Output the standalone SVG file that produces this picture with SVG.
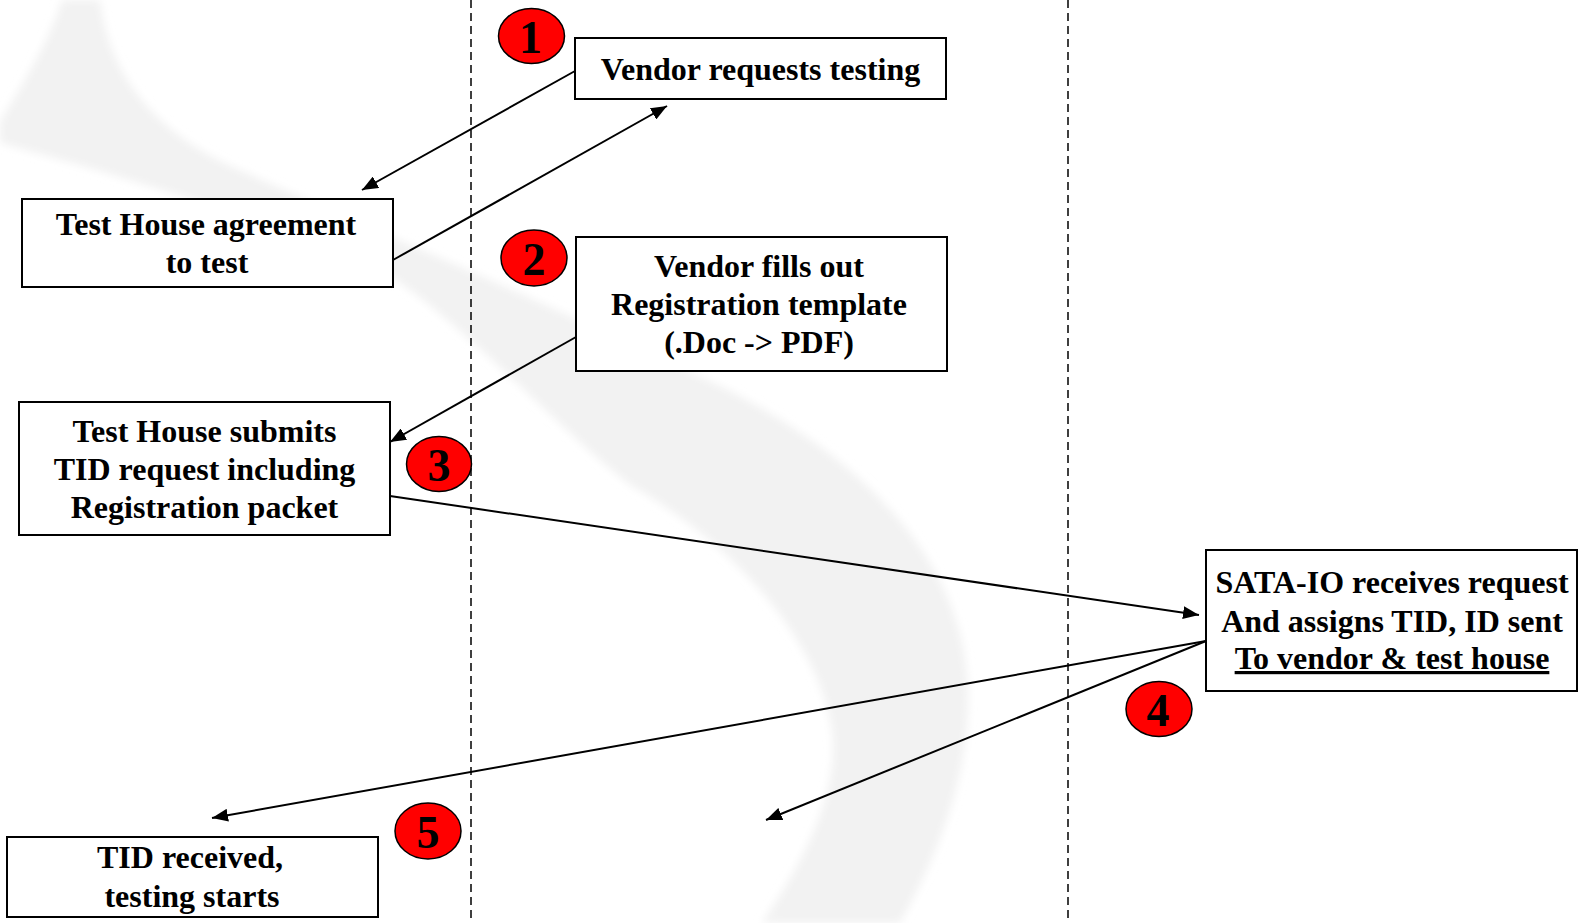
<svg xmlns="http://www.w3.org/2000/svg" width="1585" height="923" viewBox="0 0 1585 923">
  <defs>
    <style>
      .box { fill: #ffffff; stroke: #000000; stroke-width: 2; }
      .lbl { font-family: "Liberation Serif", "Times New Roman", serif; font-weight: bold; font-size: 32px; fill: #000000; text-anchor: middle; }
      .badge { fill: #ff0000; stroke: #000000; stroke-width: 1.5; }
      .num { font-family: "Liberation Serif", "Times New Roman", serif; font-weight: bold; font-size: 46px; fill: #000000; text-anchor: middle; }
      .lane { stroke: #000000; stroke-width: 1.5; stroke-dasharray: 8 5; fill: none; }
      .conn { stroke: #000000; stroke-width: 2; fill: none; marker-end: url(#arr); }
    </style>
    <marker id="arr" markerWidth="16" markerHeight="13" refX="16" refY="6.5" orient="auto" markerUnits="userSpaceOnUse">
      <path d="M0,0 L16,6.5 L0,13 z" fill="#000000"/>
    </marker>
    <filter id="soft" x="-10%" y="-10%" width="120%" height="120%">
      <feGaussianBlur stdDeviation="4"/>
    </filter>
  </defs>

  <rect x="0" y="0" width="1585" height="923" fill="#ffffff"/>

  <!-- background watermark swoosh -->
  <path id="swoosh" filter="url(#soft)" fill="#f2f2f2"
        d="M100,0 C108,70 150,130 235,168 C335,213 520,290 718,385 C860,455 965,560 968,691 C970,780 935,860 900,923 L762,923 C805,860 840,790 832,730 C822,660 760,560 629,484 C560,430 470,330 393,278 C300,230 120,175 0,143 L0,122 C25,80 50,40 62,0 Z"/>

  <!-- swimlane separators -->
  <g id="lanes">
    <line class="lane" x1="471" y1="0" x2="471" y2="918"/>
    <line class="lane" x1="1068" y1="0" x2="1068" y2="918"/>
  </g>

  <!-- connectors -->
  <g id="connectors">
    <line class="conn" x1="575" y1="71" x2="362" y2="190"/>
    <line class="conn" x1="393" y1="260" x2="667" y2="106"/>
    <line class="conn" x1="576" y1="337" x2="390" y2="442"/>
    <line class="conn" x1="390" y1="496" x2="1199" y2="615"/>
    <line class="conn" x1="1206" y1="641" x2="212" y2="818"/>
    <line class="conn" x1="1206" y1="641" x2="766" y2="820"/>
  </g>

  <!-- nodes -->
  <g id="node-vendor-requests">
    <rect class="box" x="575" y="38" width="371" height="61"/>
    <text class="lbl" x="760.5" y="80">Vendor requests testing</text>
  </g>

  <g id="node-agreement">
    <rect class="box" x="22" y="199" width="371" height="88"/>
    <text class="lbl"><tspan x="206" y="235">Test House agreement</tspan><tspan x="207" y="273">to test</tspan></text>
  </g>

  <g id="node-vendor-fills">
    <rect class="box" x="576" y="237" width="371" height="134"/>
    <text class="lbl"><tspan x="759" y="277">Vendor fills out</tspan><tspan x="759" y="315">Registration template</tspan><tspan x="759" y="353">(.Doc -&gt; PDF)</tspan></text>
  </g>

  <g id="node-test-house-submits">
    <rect class="box" x="19" y="402" width="371" height="133"/>
    <text class="lbl"><tspan x="204.5" y="442">Test House submits</tspan><tspan x="204.5" y="480">TID request including</tspan><tspan x="204.5" y="518">Registration packet</tspan></text>
  </g>

  <g id="node-sata-io">
    <rect class="box" x="1206" y="550" width="371" height="141"/>
    <text class="lbl"><tspan x="1392" y="593">SATA-IO receives request</tspan><tspan x="1392" y="632">And assigns TID, ID sent</tspan><tspan x="1392" y="669" text-decoration="underline">To vendor &amp; test house</tspan></text>
  </g>

  <g id="node-tid-received">
    <rect class="box" x="7" y="837" width="371" height="80"/>
    <text class="lbl"><tspan x="190" y="868">TID received,</tspan><tspan x="192" y="907">testing starts</tspan></text>
  </g>

  <!-- step badges -->
  <g id="badge-1">
    <ellipse class="badge" cx="531.5" cy="36" rx="33" ry="27.5"/>
    <text class="num" x="530.5" y="53">1</text>
  </g>
  <g id="badge-2">
    <ellipse class="badge" cx="534" cy="258" rx="33" ry="28"/>
    <text class="num" x="534" y="275">2</text>
  </g>
  <g id="badge-3">
    <ellipse class="badge" cx="439" cy="464" rx="32.5" ry="27.5"/>
    <text class="num" x="439" y="481">3</text>
  </g>
  <g id="badge-4">
    <ellipse class="badge" cx="1159" cy="709" rx="33" ry="27.5"/>
    <text class="num" x="1158" y="726">4</text>
  </g>
  <g id="badge-5">
    <ellipse class="badge" cx="428" cy="831" rx="33" ry="28"/>
    <text class="num" x="428" y="848">5</text>
  </g>
</svg>
